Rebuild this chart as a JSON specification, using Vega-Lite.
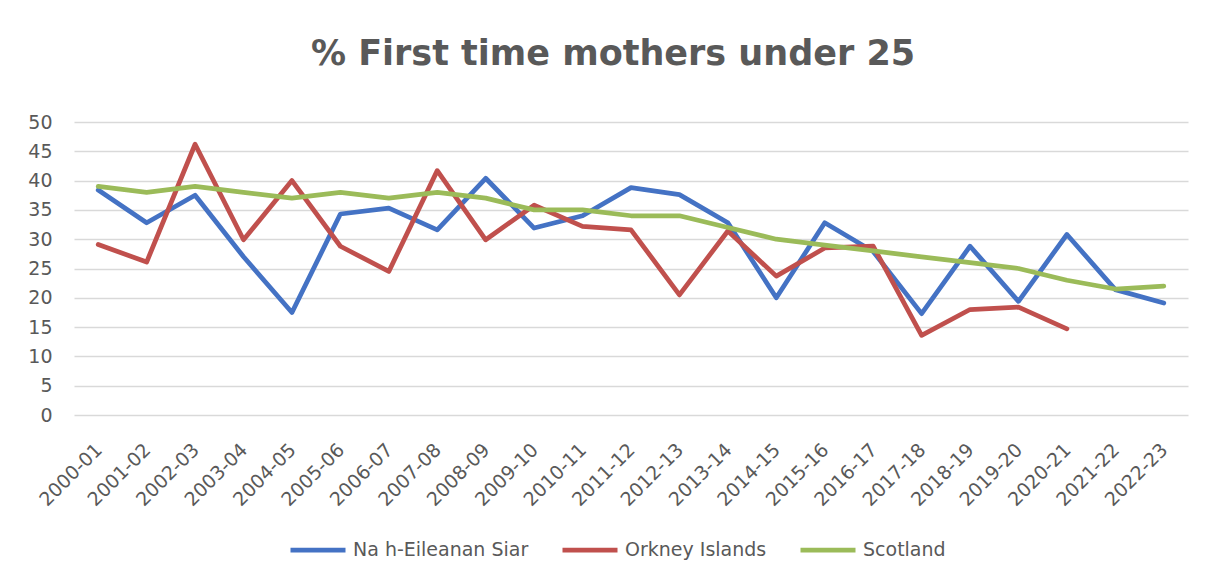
{
  "$schema": "https://vega.github.io/schema/vega-lite/v6.json",
  "autosize": "none",
  "width": 1114,
  "height": 293,
  "padding": {"left": 74, "top": 122, "right": 18, "bottom": 167},
  "background": "white",
  "title": {
    "text": "% First time mothers under 25",
    "font": "DejaVu Sans",
    "fontSize": 35,
    "fontWeight": "bold",
    "color": "#595959",
    "anchor": "middle",
    "frame": "group",
    "dx": -18,
    "baseline": "alphabetic",
    "offset": 13
  },
  "config": {
    "view": {"stroke": null},
    "font": "DejaVu Sans",
    "axis": {"labelColor": "#595959", "labelFont": "DejaVu Sans"},
    "legend": {"labelFont": "DejaVu Sans"}
  },
  "data": {
    "values": [
      {"year": "2000-01", "series": "Na h-Eileanan Siar", "value": 38.4},
      {"year": "2001-02", "series": "Na h-Eileanan Siar", "value": 32.8},
      {"year": "2002-03", "series": "Na h-Eileanan Siar", "value": 37.5},
      {"year": "2003-04", "series": "Na h-Eileanan Siar", "value": 27.0},
      {"year": "2004-05", "series": "Na h-Eileanan Siar", "value": 17.5},
      {"year": "2005-06", "series": "Na h-Eileanan Siar", "value": 34.3},
      {"year": "2006-07", "series": "Na h-Eileanan Siar", "value": 35.3},
      {"year": "2007-08", "series": "Na h-Eileanan Siar", "value": 31.6},
      {"year": "2008-09", "series": "Na h-Eileanan Siar", "value": 40.4},
      {"year": "2009-10", "series": "Na h-Eileanan Siar", "value": 31.9},
      {"year": "2010-11", "series": "Na h-Eileanan Siar", "value": 34.0},
      {"year": "2011-12", "series": "Na h-Eileanan Siar", "value": 38.8},
      {"year": "2012-13", "series": "Na h-Eileanan Siar", "value": 37.6},
      {"year": "2013-14", "series": "Na h-Eileanan Siar", "value": 32.8},
      {"year": "2014-15", "series": "Na h-Eileanan Siar", "value": 20.0},
      {"year": "2015-16", "series": "Na h-Eileanan Siar", "value": 32.8},
      {"year": "2016-17", "series": "Na h-Eileanan Siar", "value": 27.9},
      {"year": "2017-18", "series": "Na h-Eileanan Siar", "value": 17.3},
      {"year": "2018-19", "series": "Na h-Eileanan Siar", "value": 28.8},
      {"year": "2019-20", "series": "Na h-Eileanan Siar", "value": 19.4},
      {"year": "2020-21", "series": "Na h-Eileanan Siar", "value": 30.8},
      {"year": "2021-22", "series": "Na h-Eileanan Siar", "value": 21.4},
      {"year": "2022-23", "series": "Na h-Eileanan Siar", "value": 19.1},
      {"year": "2000-01", "series": "Orkney Islands", "value": 29.1},
      {"year": "2001-02", "series": "Orkney Islands", "value": 26.1},
      {"year": "2002-03", "series": "Orkney Islands", "value": 46.2},
      {"year": "2003-04", "series": "Orkney Islands", "value": 29.9},
      {"year": "2004-05", "series": "Orkney Islands", "value": 40.0},
      {"year": "2005-06", "series": "Orkney Islands", "value": 28.8},
      {"year": "2006-07", "series": "Orkney Islands", "value": 24.5},
      {"year": "2007-08", "series": "Orkney Islands", "value": 41.7},
      {"year": "2008-09", "series": "Orkney Islands", "value": 29.9},
      {"year": "2009-10", "series": "Orkney Islands", "value": 35.8},
      {"year": "2010-11", "series": "Orkney Islands", "value": 32.2},
      {"year": "2011-12", "series": "Orkney Islands", "value": 31.6},
      {"year": "2012-13", "series": "Orkney Islands", "value": 20.5},
      {"year": "2013-14", "series": "Orkney Islands", "value": 31.4},
      {"year": "2014-15", "series": "Orkney Islands", "value": 23.7},
      {"year": "2015-16", "series": "Orkney Islands", "value": 28.5},
      {"year": "2016-17", "series": "Orkney Islands", "value": 28.8},
      {"year": "2017-18", "series": "Orkney Islands", "value": 13.6},
      {"year": "2018-19", "series": "Orkney Islands", "value": 18.0},
      {"year": "2019-20", "series": "Orkney Islands", "value": 18.4},
      {"year": "2020-21", "series": "Orkney Islands", "value": 14.7},
      {"year": "2000-01", "series": "Scotland", "value": 39},
      {"year": "2001-02", "series": "Scotland", "value": 38},
      {"year": "2002-03", "series": "Scotland", "value": 39},
      {"year": "2003-04", "series": "Scotland", "value": 38},
      {"year": "2004-05", "series": "Scotland", "value": 37},
      {"year": "2005-06", "series": "Scotland", "value": 38},
      {"year": "2006-07", "series": "Scotland", "value": 37},
      {"year": "2007-08", "series": "Scotland", "value": 38},
      {"year": "2008-09", "series": "Scotland", "value": 37},
      {"year": "2009-10", "series": "Scotland", "value": 35},
      {"year": "2010-11", "series": "Scotland", "value": 35},
      {"year": "2011-12", "series": "Scotland", "value": 34},
      {"year": "2012-13", "series": "Scotland", "value": 34},
      {"year": "2013-14", "series": "Scotland", "value": 32},
      {"year": "2014-15", "series": "Scotland", "value": 30},
      {"year": "2015-16", "series": "Scotland", "value": 29},
      {"year": "2016-17", "series": "Scotland", "value": 28},
      {"year": "2017-18", "series": "Scotland", "value": 27},
      {"year": "2018-19", "series": "Scotland", "value": 26},
      {"year": "2019-20", "series": "Scotland", "value": 25},
      {"year": "2020-21", "series": "Scotland", "value": 23},
      {"year": "2021-22", "series": "Scotland", "value": 21.5},
      {"year": "2022-23", "series": "Scotland", "value": 22}
    ]
  },
  "mark": {"type": "line", "strokeWidth": 4.75, "strokeCap": "round", "strokeJoin": "round"},
  "encoding": {
    "x": {
      "field": "year",
      "type": "ordinal",
      "scale": {"type": "point", "padding": 0.5},
      "axis": {
        "title": null,
        "labelAngle": -45,
        "labelFontSize": 19,
        "labelPadding": 25,
        "labelOffset": -6,
        "ticks": false,
        "domain": false,
        "grid": false
      }
    },
    "y": {
      "field": "value",
      "type": "quantitative",
      "scale": {"domain": [0, 50], "nice": false},
      "axis": {
        "title": null,
        "values": [0, 5, 10, 15, 20, 25, 30, 35, 40, 45, 50],
        "labelFontSize": 19,
        "labelPadding": 22,
        "ticks": false,
        "domain": false,
        "gridColor": "#D9D9D9",
        "gridWidth": 1.5
      }
    },
    "color": {
      "field": "series",
      "type": "nominal",
      "scale": {
        "domain": ["Na h-Eileanan Siar", "Orkney Islands", "Scotland"],
        "range": ["#4472C4", "#C0504D", "#9BBB59"]
      },
      "legend": {
        "title": null,
        "orient": "none",
        "direction": "horizontal",
        "legendX": 214,
        "legendY": 398,
        "symbolType": "stroke",
        "symbolSize": 3025,
        "symbolStrokeWidth": 4.75,
        "labelFontSize": 19,
        "labelLimit": 0,
        "labelColor": "#595959",
        "labelOffset": 5,
        "columnPadding": 24
      }
    }
  }
}
